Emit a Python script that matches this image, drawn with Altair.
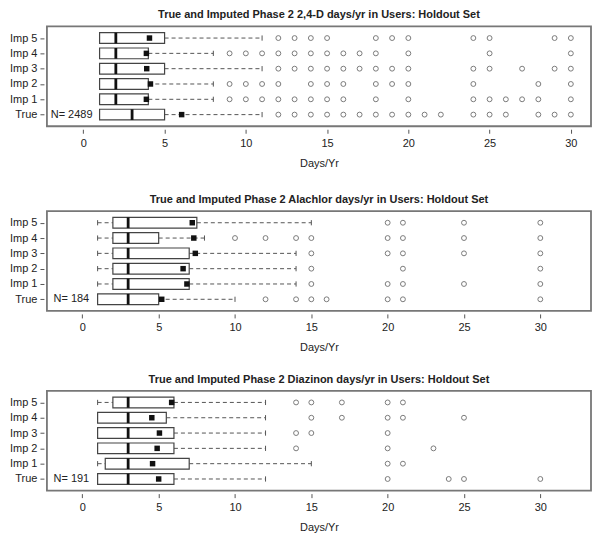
import altair as alt
import pandas as pd

groups = ["True", "Imp 1", "Imp 2", "Imp 3", "Imp 4", "Imp 5"]
x_ticks = [0, 5, 10, 15, 20, 25, 30]

# ---- Panel 1: 2,4-D ----
d24_title = "True and Imputed Phase 2 2,4-D days/yr in Users: Holdout Set"
d24_n = "N= 2489"
d24_lo = [1, 1, 1, 1, 1, 1]
d24_q1 = [1, 1, 1, 1, 1, 1]
d24_med = [3, 2, 2, 2, 2, 2]
d24_q3 = [5, 4, 4, 5, 4, 5]
d24_hi = [11, 8, 8, 11, 8, 11]
d24_mean = [6.05, 3.88, 4.13, 3.9, 3.88, 4.07]
d24_out = [
    [12, 13, 14, 15, 16, 17, 18, 19, 20, 21, 22, 24, 25, 26, 28, 29, 30],
    [9, 10, 11, 12, 13, 14, 15, 16, 18, 20, 24, 25, 26, 27, 28, 30],
    [9, 10, 11, 12, 14, 15, 16, 18, 19, 20, 24, 28, 30],
    [12, 13, 14, 15, 16, 17, 18, 19, 20, 24, 25, 27, 29, 30],
    [9, 10, 11, 12, 13, 14, 15, 16, 17, 18, 20, 25, 30],
    [12, 13, 14, 15, 18, 19, 20, 24, 25, 29, 30],
]
d24_xdom = [-2.24, 31.24]

# ---- Panel 2: Alachlor ----
ala_title = "True and Imputed Phase 2 Alachlor days/yr in Users: Holdout Set"
ala_n = "N= 184"
ala_lo = [1, 1, 1, 1, 1, 1]
ala_q1 = [1, 2, 2, 2, 2, 2]
ala_med = [3, 3, 3, 3, 3, 3]
ala_q3 = [5, 7, 7, 7, 5, 7.5]
ala_hi = [10, 14, 14, 14, 8, 15]
ala_mean = [5.2, 6.85, 6.6, 7.4, 7.3, 7.2]
ala_out = [
    [12, 14, 15, 16, 20, 21, 30],
    [15, 20, 21, 25, 30],
    [15, 21, 30],
    [15, 20, 21, 25, 30],
    [10, 12, 14, 15, 20, 21, 25, 30],
    [20, 21, 25, 30],
]
ala_xdom = [-2.32, 33.32]

# ---- Panel 3: Diazinon ----
dia_title = "True and Imputed Phase 2 Diazinon days/yr in Users: Holdout Set"
dia_n = "N= 191"
dia_lo = [1, 1, 1, 1, 1, 1]
dia_q1 = [1, 1.5, 1, 1, 1, 2]
dia_med = [3, 3, 3, 3, 3, 3]
dia_q3 = [6, 7, 6, 6, 5.5, 6]
dia_hi = [12, 15, 12, 12, 12, 12]
dia_mean = [5.0, 4.6, 4.9, 5.05, 4.55, 5.85]
dia_out = [
    [20, 24, 25, 30],
    [20, 21],
    [14, 20, 23],
    [14, 15, 20],
    [15, 17, 20, 21, 25],
    [14, 15, 17, 20, 21],
]
dia_xdom = [-2.32, 33.32]

FONT = "Liberation Sans"
BOX_HALF = 0.35
CAP_HALF = 0.17


def make_panel(title, ntext, lo, q1, med, q3, hi, mean, outs, xdom):
    stats = pd.DataFrame({
        "grp": groups, "ypos": list(range(1, 7)),
        "lo": lo, "q1": q1, "med": med, "q3": q3, "hi": hi, "mean": mean,
    })
    rows = []
    for i, vals in enumerate(outs):
        for v in vals:
            rows.append({"grp": groups[i], "ypos": i + 1, "val": v})
    outdf = pd.DataFrame(rows)

    xscale = alt.Scale(domain=xdom, nice=False, zero=False)
    yscale = alt.Scale(domain=[0.24, 6.76], nice=False, zero=False)
    xaxis = alt.Axis(values=x_ticks, title="Days/Yr", grid=False, domain=False,
                     tickSize=4, offset=3, labelPadding=4, titlePadding=9,
                     format="d", labelFont=FONT, labelFontSize=11, labelColor="#222",
                     titleFont=FONT, titleFontSize=11, titleFontWeight="normal",
                     titleColor="#222", tickColor="#555")
    yaxis = alt.Axis(values=[1, 2, 3, 4, 5, 6], title=None, grid=False,
                     domain=False, tickSize=4, offset=3, labelPadding=3,
                     labelFont=FONT, labelFontSize=11, labelColor="#222",
                     tickColor="#555",
                     labelExpr="datum.value == 1 ? 'True' : 'Imp ' + (datum.value - 1)")

    def X(f):
        return alt.X(f, type="quantitative", scale=xscale, axis=xaxis)

    def Y(f):
        return alt.Y(f, type="quantitative", scale=yscale, axis=yaxis)

    base = alt.Chart(stats).transform_calculate(
        ybot=f"datum.ypos - {BOX_HALF}", ytop=f"datum.ypos + {BOX_HALF}",
        cbot=f"datum.ypos - {CAP_HALF}", ctop=f"datum.ypos + {CAP_HALF}",
    )

    low_wh = base.transform_filter("datum.lo < datum.q1").mark_rule(
        color="#555", strokeWidth=1, strokeDash=[4, 3]
    ).encode(x=X("lo"), x2="q1:Q", y=Y("ypos"))
    low_cap = base.mark_rule(color="#555", strokeWidth=1).encode(
        x=X("lo"), y=Y("cbot"), y2="ctop:Q")
    up_wh = base.mark_rule(color="#555", strokeWidth=1, strokeDash=[4, 3]).encode(
        x=X("q3"), x2="hi:Q", y=Y("ypos"))
    up_cap = base.mark_rule(color="#555", strokeWidth=1).encode(
        x=X("hi"), y=Y("cbot"), y2="ctop:Q")
    box = base.mark_rect(fill="white", stroke="#444", strokeWidth=1.2).encode(
        x=X("q1"), x2="q3:Q", y=Y("ybot"), y2="ytop:Q")
    median = base.mark_rule(color="#111", strokeWidth=2.8).encode(
        x=X("med"), y=Y("ybot"), y2="ytop:Q")
    means = base.mark_square(size=30, color="#111", opacity=1).encode(
        x=X("mean"), y=Y("ypos"))
    outl = alt.Chart(outdf).mark_point(
        shape="circle", filled=False, size=24, color="#444", strokeWidth=1
    ).encode(x=X("val"), y=Y("ypos"))
    ntxt = base.transform_filter("datum.ypos == 1").transform_calculate(
        lab=f"'{ntext}'"
    ).mark_text(font=FONT, fontSize=11, color="#222", align="center",
                baseline="middle").encode(
        x=alt.X(datum=-0.72, type="quantitative", scale=xscale, axis=xaxis),
        y=Y("ypos"), text="lab:N")

    return alt.layer(low_wh, low_cap, up_wh, up_cap, box, median, means, outl, ntxt).properties(
        width=545, height=100,
        title=alt.TitleParams(title, font=FONT, fontSize=11, fontWeight="bold",
                              color="#222", anchor="middle", offset=6),
    )


p1 = make_panel(d24_title, d24_n, d24_lo, d24_q1, d24_med, d24_q3, d24_hi, d24_mean, d24_out, d24_xdom)
p2 = make_panel(ala_title, ala_n, ala_lo, ala_q1, ala_med, ala_q3, ala_hi, ala_mean, ala_out, ala_xdom)
p3 = make_panel(dia_title, dia_n, dia_lo, dia_q1, dia_med, dia_q3, dia_hi, dia_mean, dia_out, dia_xdom)

chart = alt.vconcat(p1, alt.vconcat(p2, p3, spacing=19), spacing=24).properties(
    padding={"left": 0, "top": 0, "right": 0, "bottom": 0},
    background="white",
).configure_view(
    stroke="#777", strokeWidth=1.8
)

chart.save("out.html", embed_options={"renderer": "svg", "actions": False})
